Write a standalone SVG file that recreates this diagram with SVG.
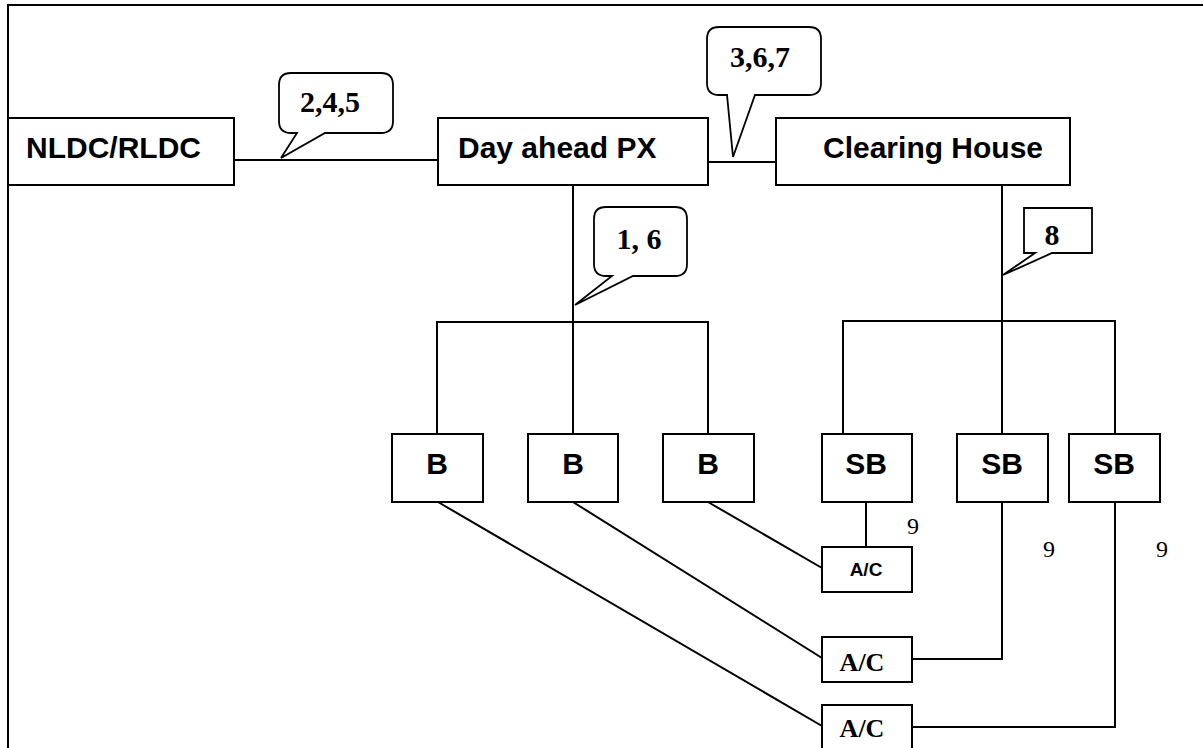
<svg xmlns="http://www.w3.org/2000/svg" width="1203" height="748" viewBox="0 0 1203 748">
<style>
.box{fill:#fff;stroke:#000;stroke-width:2}
.ln{fill:none;stroke:#000;stroke-width:2}
.call{fill:#fff;stroke:#000;stroke-width:1.8;stroke-linejoin:miter}
.lbl{font-family:"Liberation Sans",Arial,sans-serif;font-weight:bold;font-size:30px;fill:#000}
.num{font-family:"Liberation Serif","Times New Roman",serif;font-weight:bold;font-size:30px;fill:#000}
.nine{font-family:"Liberation Serif","Times New Roman",serif;font-size:24px;fill:#000}
.acs{font-family:"Liberation Sans",Arial,sans-serif;font-weight:bold;font-size:19px;fill:#000}
.act{font-family:"Liberation Serif","Times New Roman",serif;font-weight:bold;font-size:26px;fill:#000}
</style>
<rect x="0" y="0" width="1203" height="748" fill="#fff"/>
<g id="frame"><path class="ln" d="M8,748 V5 H1203" stroke-width="2.5"/></g>
<g id="connectors">
<line class="ln" x1="234" y1="160" x2="438" y2="160"/>
<line class="ln" x1="708" y1="162" x2="776" y2="162"/>
<line class="ln" x1="573" y1="185" x2="573" y2="434"/>
<path class="ln" d="M437,434 V322 H708 V434"/>
<line class="ln" x1="1002" y1="185" x2="1002" y2="434"/>
<path class="ln" d="M843,434 V321 H1115 V434"/>
<line class="ln" x1="866" y1="502" x2="866" y2="547"/>
<path class="ln" d="M1002,502 V659 H912"/>
<path class="ln" d="M1115,502 V727 H912"/>
<line class="ln" x1="438" y1="502" x2="822" y2="726"/>
<line class="ln" x1="573" y1="502" x2="822" y2="658"/>
<line class="ln" x1="708" y1="502" x2="822" y2="568"/>
</g>
<g id="nldc"><rect class="box" x="8" y="118" width="226" height="67"/><text class="lbl" x="26" y="158">NLDC/RLDC</text></g>
<g id="px"><rect class="box" x="438" y="118" width="270" height="67"/><text class="lbl" x="458" y="158">Day ahead PX</text></g>
<g id="clearing"><rect class="box" x="776" y="118" width="294" height="67"/><text class="lbl" x="823" y="158">Clearing House</text></g>
<g id="callout245"><path class="call" d="M291,73 H381 Q393,73 393,85 V121 Q393,133 381,133 H325 L281,158 L297,133 H291 Q279,133 279,121 V85 Q279,73 291,73 Z"/><text class="num" x="330" y="112" text-anchor="middle">2,4,5</text></g>
<g id="callout367"><path class="call" d="M719,27 H809 Q821,27 821,39 V83 Q821,95 809,95 H755 L733,157 L727,95 H719 Q707,95 707,83 V39 Q707,27 719,27 Z"/><text class="num" x="760" y="67" text-anchor="middle">3,6,7</text></g>
<g id="callout16"><path class="call" d="M606,207 H675 Q687,207 687,219 V264 Q687,276 675,276 H633 L575,305 L612,276 H606 Q594,276 594,264 V219 Q594,207 606,207 Z"/><text class="num" x="639" y="249" text-anchor="middle">1, 6</text></g>
<g id="callout8"><path class="call" d="M1024,208 H1092 V253 H1052 L1003,275 L1035,253 H1024 Z"/><text class="num" x="1052" y="245" text-anchor="middle">8</text></g>
<g id="b1"><rect class="box" x="392" y="434" width="91" height="68"/><text class="lbl" x="437" y="474" text-anchor="middle">B</text></g>
<g id="b2"><rect class="box" x="528" y="434" width="90" height="68"/><text class="lbl" x="573" y="474" text-anchor="middle">B</text></g>
<g id="b3"><rect class="box" x="663" y="434" width="91" height="68"/><text class="lbl" x="708" y="474" text-anchor="middle">B</text></g>
<g id="sb1"><rect class="box" x="822" y="434" width="90" height="68"/><text class="lbl" x="866" y="474" text-anchor="middle">SB</text></g>
<g id="sb2"><rect class="box" x="957" y="434" width="91" height="68"/><text class="lbl" x="1002" y="474" text-anchor="middle">SB</text></g>
<g id="sb3"><rect class="box" x="1069" y="434" width="91" height="68"/><text class="lbl" x="1114" y="474" text-anchor="middle">SB</text></g>
<g id="ac1"><rect class="box" x="822" y="547" width="90" height="45"/><text class="acs" x="866" y="576" text-anchor="middle">A/C</text></g>
<g id="ac2"><rect class="box" x="822" y="637" width="90" height="45"/><text class="act" x="862" y="671" text-anchor="middle">A/C</text></g>
<g id="ac3"><rect class="box" x="822" y="705" width="90" height="50"/><text class="act" x="862" y="737" text-anchor="middle">A/C</text></g>
<g id="labels9"><text class="nine" x="907" y="534">9</text><text class="nine" x="1043" y="557">9</text><text class="nine" x="1156" y="557">9</text></g>
</svg>
